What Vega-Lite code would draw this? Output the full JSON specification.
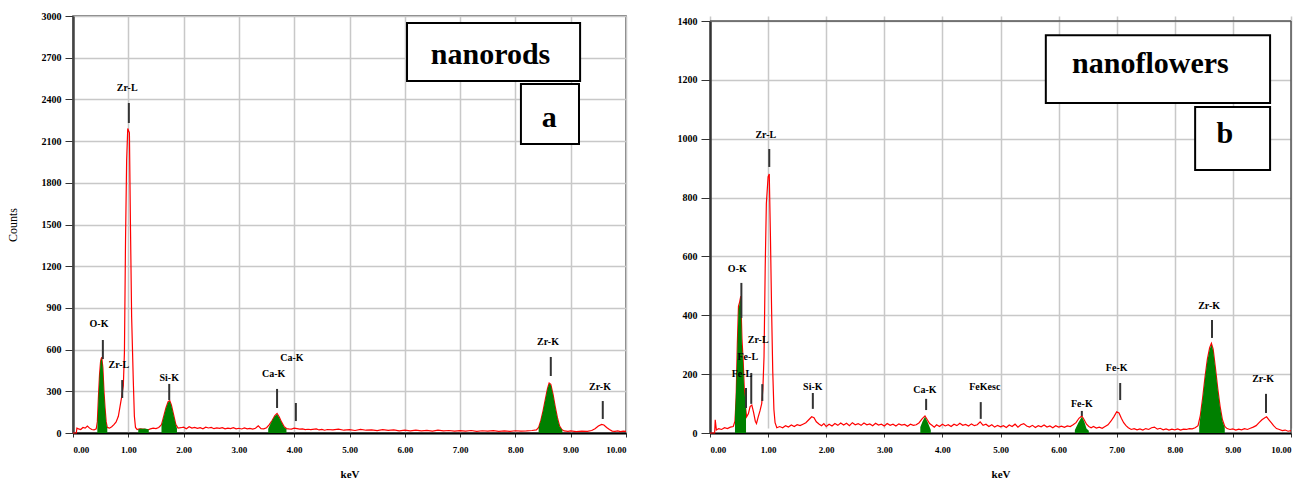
{
  "$schema": "https://vega.github.io/schema/vega-lite/v6.json",
  "background": "white",
  "padding": {"left": 5, "top": 10, "right": 5, "bottom": 5},
  "spacing": 47,
  "config": {
    "font": "Liberation Serif",
    "axis": {"labelFont": "Liberation Serif", "labelFontWeight": "bold", "labelFontSize": 9, "labelColor": "#000", "gridColor": "#c8c8c8", "gridWidth": 1.5, "tickColor": "#333", "titleFont": "Liberation Serif", "titleColor": "#000"}
  },
  "datasets": {
    "specA": [
      {"k":0.00,"c":0},{"k":0.06,"c":0},{"k":0.07,"c":35},{"k":0.10,"c":30},{"k":0.14,"c":25},{"k":0.18,"c":40},{"k":0.22,"c":35},{"k":0.26,"c":50},{"k":0.30,"c":35},{"k":0.34,"c":25},{"k":0.38,"c":22},{"k":0.42,"c":30},{"k":0.44,"c":80},{"k":0.46,"c":260},{"k":0.48,"c":420},{"k":0.50,"c":520},{"k":0.52,"c":545},{"k":0.54,"c":470},{"k":0.56,"c":300},{"k":0.58,"c":180},{"k":0.60,"c":80},{"k":0.62,"c":40},{"k":0.66,"c":35},{"k":0.70,"c":45},{"k":0.74,"c":60},{"k":0.78,"c":80},{"k":0.82,"c":120},{"k":0.85,"c":190},{"k":0.88,"c":260},{"k":0.91,"c":340},{"k":0.93,"c":580},{"k":0.95,"c":1390},{"k":0.97,"c":1960},{"k":0.99,"c":2190},{"k":1.02,"c":2160},{"k":1.04,"c":1460},{"k":1.06,"c":840},{"k":1.09,"c":380},{"k":1.11,"c":120},{"k":1.13,"c":40},{"k":1.16,"c":25},{"k":1.20,"c":30},{"k":1.25,"c":28},{"k":1.30,"c":26},{"k":1.35,"c":22},{"k":1.40,"c":30},{"k":1.45,"c":35},{"k":1.50,"c":32},{"k":1.55,"c":40},{"k":1.60,"c":60},{"k":1.64,"c":120},{"k":1.68,"c":180},{"k":1.72,"c":225},{"k":1.75,"c":232},{"k":1.78,"c":200},{"k":1.82,"c":130},{"k":1.86,"c":60},{"k":1.90,"c":35},
      {"k":1.95,"c":38},{"k":2.00,"c":42},{"k":2.05,"c":30},{"k":2.10,"c":45},{"k":2.15,"c":35},{"k":2.20,"c":40},{"k":2.25,"c":33},{"k":2.30,"c":38},{"k":2.35,"c":30},{"k":2.40,"c":42},{"k":2.45,"c":36},{"k":2.50,"c":40},{"k":2.55,"c":31},{"k":2.60,"c":37},{"k":2.65,"c":33},{"k":2.70,"c":39},{"k":2.75,"c":30},{"k":2.80,"c":35},{"k":2.85,"c":32},{"k":2.90,"c":38},{"k":2.95,"c":30},{"k":3.00,"c":34},{"k":3.05,"c":29},{"k":3.10,"c":36},{"k":3.15,"c":30},{"k":3.20,"c":33},{"k":3.25,"c":28},{"k":3.30,"c":34},{"k":3.35,"c":52},{"k":3.40,"c":32},{"k":3.45,"c":30},{"k":3.50,"c":38},
      {"k":3.55,"c":60},{"k":3.60,"c":90},{"k":3.65,"c":125},{"k":3.69,"c":140},{"k":3.73,"c":115},{"k":3.77,"c":80},{"k":3.82,"c":45},{"k":3.86,"c":32},
      {"k":3.90,"c":30},{"k":3.95,"c":28},{"k":4.00,"c":35},{"k":4.05,"c":32},{"k":4.10,"c":28},{"k":4.15,"c":30},{"k":4.20,"c":25},{"k":4.25,"c":27},{"k":4.30,"c":24},{"k":4.40,"c":30},{"k":4.45,"c":22},{"k":4.50,"c":26},{"k":4.55,"c":20},{"k":4.60,"c":25},{"k":4.70,"c":22},{"k":4.80,"c":28},{"k":4.90,"c":20},{"k":5.00,"c":24},{"k":5.10,"c":18},{"k":5.20,"c":26},{"k":5.30,"c":20},{"k":5.40,"c":22},{"k":5.50,"c":17},{"k":5.60,"c":24},{"k":5.70,"c":19},{"k":5.80,"c":22},{"k":5.90,"c":16},{"k":6.00,"c":20},{"k":6.10,"c":15},{"k":6.20,"c":21},{"k":6.30,"c":16},{"k":6.40,"c":19},{"k":6.50,"c":14},{"k":6.60,"c":20},{"k":6.70,"c":15},{"k":6.80,"c":18},{"k":6.90,"c":13},{"k":7.00,"c":17},{"k":7.10,"c":14},{"k":7.20,"c":18},{"k":7.30,"c":12},{"k":7.40,"c":16},{"k":7.50,"c":13},{"k":7.60,"c":17},{"k":7.70,"c":12},{"k":7.80,"c":15},{"k":7.90,"c":12},{"k":8.00,"c":16},{"k":8.10,"c":13},{"k":8.20,"c":15},{"k":8.30,"c":18},{"k":8.38,"c":22},
      {"k":8.42,"c":40},{"k":8.46,"c":90},{"k":8.50,"c":160},{"k":8.54,"c":240},{"k":8.58,"c":320},{"k":8.61,"c":360},{"k":8.64,"c":350},{"k":8.68,"c":280},{"k":8.72,"c":190},{"k":8.76,"c":110},{"k":8.80,"c":50},{"k":8.84,"c":25},{"k":8.88,"c":15},
      {"k":8.95,"c":12},{"k":9.00,"c":15},{"k":9.10,"c":10},{"k":9.20,"c":14},{"k":9.30,"c":12},{"k":9.38,"c":18},{"k":9.44,"c":30},{"k":9.50,"c":50},{"k":9.56,"c":62},{"k":9.60,"c":58},{"k":9.65,"c":40},{"k":9.70,"c":25},{"k":9.75,"c":14},{"k":9.80,"c":12},{"k":9.85,"c":15},{"k":9.90,"c":10},{"k":9.95,"c":14},{"k":10.00,"c":12}
    ],
    "fillA": [
      {"p":"O","k":0.44,"c":30},{"p":"O","k":0.46,"c":250},{"p":"O","k":0.48,"c":410},{"p":"O","k":0.50,"c":515},{"p":"O","k":0.52,"c":540},{"p":"O","k":0.54,"c":460},{"p":"O","k":0.56,"c":290},{"p":"O","k":0.58,"c":170},{"p":"O","k":0.60,"c":70},{"p":"O","k":0.62,"c":35},
      {"p":"X","k":1.18,"c":25},{"p":"X","k":1.22,"c":32},{"p":"X","k":1.26,"c":30},{"p":"X","k":1.30,"c":33},{"p":"X","k":1.34,"c":28},{"p":"X","k":1.37,"c":25},
      {"p":"Si","k":1.60,"c":50},{"p":"Si","k":1.64,"c":115},{"p":"Si","k":1.68,"c":175},{"p":"Si","k":1.72,"c":220},{"p":"Si","k":1.75,"c":228},{"p":"Si","k":1.78,"c":195},{"p":"Si","k":1.82,"c":125},{"p":"Si","k":1.86,"c":55},{"p":"Si","k":1.88,"c":35},
      {"p":"Ca","k":3.53,"c":30},{"p":"Ca","k":3.57,"c":65},{"p":"Ca","k":3.61,"c":95},{"p":"Ca","k":3.65,"c":120},{"p":"Ca","k":3.69,"c":135},{"p":"Ca","k":3.73,"c":110},{"p":"Ca","k":3.77,"c":75},{"p":"Ca","k":3.82,"c":40},{"p":"Ca","k":3.86,"c":28},
      {"p":"Zr","k":8.42,"c":38},{"p":"Zr","k":8.46,"c":88},{"p":"Zr","k":8.50,"c":155},{"p":"Zr","k":8.54,"c":235},{"p":"Zr","k":8.58,"c":315},{"p":"Zr","k":8.61,"c":355},{"p":"Zr","k":8.64,"c":345},{"p":"Zr","k":8.68,"c":275},{"p":"Zr","k":8.72,"c":185},{"p":"Zr","k":8.76,"c":105},{"p":"Zr","k":8.80,"c":45},{"p":"Zr","k":8.85,"c":20}
    ],
    "marksA": [
      {"k":1.01,"c":2374,"c2":2230},{"k":0.54,"c":669,"c2":532},{"k":0.89,"c":381,"c2":252},{"k":1.74,"c":353,"c2":237},{"k":3.69,"c":317,"c2":180},{"k":4.03,"c":216,"c2":86},{"k":8.64,"c":547,"c2":410},{"k":9.58,"c":230,"c2":101}
    ],
    "labelsA": [
      {"t":"Zr-L","k":0.98,"c":2482},{"t":"O-K","k":0.47,"c":784},{"t":"Zr-L","k":0.83,"c":489},{"t":"Si-K","k":1.74,"c":396},{"t":"Ca-K","k":3.63,"c":424},{"t":"Ca-K","k":3.96,"c":540},{"t":"Zr-K","k":8.59,"c":655},{"t":"Zr-K","k":9.53,"c":331}
    ],
    "boxesA": [
      {"k":6.04,"k2":9.17,"c":2950,"c2":2532},{"k":8.10,"k2":9.15,"c":2511,"c2":2079}
    ],
    "boxTextA": [
      {"t":"nanorods","k":7.55,"c":2655},{"t":"a","k":8.61,"c":2201}
    ],
    "specB": [
      {"k":0.00,"c":0},{"k":0.08,"c":0},{"k":0.09,"c":45},{"k":0.11,"c":10},{"k":0.15,"c":15},{"k":0.20,"c":12},{"k":0.25,"c":18},{"k":0.30,"c":15},{"k":0.35,"c":20},{"k":0.40,"c":22},{"k":0.43,"c":40},{"k":0.45,"c":120},{"k":0.47,"c":300},{"k":0.49,"c":430},{"k":0.51,"c":445},{"k":0.53,"c":465},{"k":0.55,"c":320},{"k":0.57,"c":250},{"k":0.59,"c":150},{"k":0.61,"c":90},{"k":0.63,"c":55},{"k":0.66,"c":65},{"k":0.69,"c":90},{"k":0.72,"c":95},{"k":0.75,"c":70},{"k":0.78,"c":40},{"k":0.80,"c":32},{"k":0.83,"c":55},{"k":0.86,"c":75},{"k":0.89,"c":100},{"k":0.91,"c":150},{"k":0.93,"c":260},{"k":0.95,"c":560},{"k":0.97,"c":780},{"k":1.00,"c":870},{"k":1.02,"c":880},{"k":1.04,"c":670},{"k":1.06,"c":420},{"k":1.08,"c":210},{"k":1.10,"c":80},{"k":1.12,"c":35},{"k":1.15,"c":18},{"k":1.20,"c":22},{"k":1.25,"c":18},{"k":1.30,"c":25},{"k":1.35,"c":20},{"k":1.40,"c":27},{"k":1.45,"c":22},{"k":1.50,"c":28},{"k":1.55,"c":25},{"k":1.60,"c":30},{"k":1.65,"c":35},{"k":1.70,"c":45},{"k":1.75,"c":55},{"k":1.79,"c":52},{"k":1.83,"c":38},{"k":1.88,"c":30},{"k":1.92,"c":25},{"k":1.96,"c":32},
      {"k":2.00,"c":22},{"k":2.05,"c":30},{"k":2.10,"c":24},{"k":2.15,"c":32},{"k":2.20,"c":26},{"k":2.25,"c":34},{"k":2.30,"c":27},{"k":2.35,"c":33},{"k":2.40,"c":25},{"k":2.45,"c":35},{"k":2.50,"c":28},{"k":2.55,"c":32},{"k":2.60,"c":26},{"k":2.65,"c":34},{"k":2.70,"c":28},{"k":2.75,"c":31},{"k":2.80,"c":25},{"k":2.85,"c":33},{"k":2.90,"c":27},{"k":2.95,"c":30},{"k":3.00,"c":24},{"k":3.05,"c":32},{"k":3.10,"c":26},{"k":3.15,"c":30},{"k":3.20,"c":24},{"k":3.25,"c":31},{"k":3.30,"c":27},{"k":3.35,"c":29},{"k":3.40,"c":23},{"k":3.45,"c":30},{"k":3.50,"c":26},{"k":3.55,"c":28},{"k":3.60,"c":35},{"k":3.65,"c":48},{"k":3.70,"c":58},{"k":3.74,"c":45},{"k":3.78,"c":32},{"k":3.82,"c":26},{"k":3.86,"c":20},{"k":3.90,"c":28},{"k":3.95,"c":22},
      {"k":4.00,"c":30},{"k":4.05,"c":24},{"k":4.10,"c":28},{"k":4.15,"c":22},{"k":4.20,"c":30},{"k":4.25,"c":25},{"k":4.30,"c":33},{"k":4.35,"c":26},{"k":4.40,"c":29},{"k":4.45,"c":24},{"k":4.50,"c":31},{"k":4.55,"c":25},{"k":4.60,"c":28},{"k":4.65,"c":38},{"k":4.70,"c":26},{"k":4.75,"c":30},{"k":4.80,"c":22},{"k":4.85,"c":28},{"k":4.90,"c":20},{"k":4.95,"c":26},{"k":5.00,"c":21},{"k":5.05,"c":25},{"k":5.10,"c":19},{"k":5.15,"c":27},{"k":5.20,"c":22},{"k":5.25,"c":30},{"k":5.30,"c":20},{"k":5.35,"c":28},{"k":5.40,"c":32},{"k":5.45,"c":24},{"k":5.50,"c":20},{"k":5.55,"c":26},{"k":5.60,"c":19},{"k":5.65,"c":25},{"k":5.70,"c":21},{"k":5.75,"c":27},{"k":5.80,"c":20},{"k":5.85,"c":24},{"k":5.90,"c":18},{"k":5.95,"c":25},{"k":6.00,"c":20},{"k":6.05,"c":23},{"k":6.10,"c":19},{"k":6.15,"c":24},{"k":6.20,"c":22},{"k":6.25,"c":28},{"k":6.30,"c":35},{"k":6.35,"c":50},{"k":6.40,"c":58},{"k":6.44,"c":45},{"k":6.48,"c":30},{"k":6.52,"c":22},{"k":6.56,"c":18},{"k":6.60,"c":22},{"k":6.65,"c":17},{"k":6.70,"c":20},{"k":6.75,"c":16},{"k":6.80,"c":22},{"k":6.85,"c":28},{"k":6.90,"c":40},{"k":6.95,"c":55},{"k":7.00,"c":72},{"k":7.04,"c":68},{"k":7.08,"c":50},{"k":7.12,"c":35},{"k":7.16,"c":25},{"k":7.20,"c":18},{"k":7.25,"c":12},{"k":7.30,"c":15},{"k":7.35,"c":11},{"k":7.40,"c":14},{"k":7.45,"c":10},{"k":7.50,"c":15},{"k":7.55,"c":12},{"k":7.60,"c":18},{"k":7.65,"c":20},{"k":7.70,"c":13},{"k":7.75,"c":16},{"k":7.80,"c":11},{"k":7.85,"c":14},{"k":7.90,"c":10},{"k":7.95,"c":13},{"k":8.00,"c":11},{"k":8.05,"c":14},{"k":8.10,"c":10},{"k":8.15,"c":13},{"k":8.20,"c":12},{"k":8.25,"c":15},{"k":8.30,"c":14},{"k":8.35,"c":18},{"k":8.40,"c":25},{"k":8.44,"c":60},{"k":8.48,"c":120},{"k":8.52,"c":190},{"k":8.56,"c":250},{"k":8.60,"c":290},{"k":8.63,"c":305},{"k":8.66,"c":285},{"k":8.70,"c":220},{"k":8.74,"c":150},{"k":8.78,"c":90},{"k":8.82,"c":45},{"k":8.86,"c":22},{"k":8.90,"c":15},{"k":8.95,"c":12},{"k":9.00,"c":14},{"k":9.05,"c":10},{"k":9.10,"c":13},{"k":9.15,"c":11},{"k":9.20,"c":15},{"k":9.25,"c":12},{"k":9.30,"c":16},{"k":9.35,"c":20},{"k":9.40,"c":25},{"k":9.45,"c":35},{"k":9.50,"c":45},{"k":9.55,"c":52},{"k":9.58,"c":55},{"k":9.62,"c":45},{"k":9.66,"c":35},{"k":9.70,"c":25},{"k":9.75,"c":15},{"k":9.80,"c":12},{"k":9.85,"c":8},{"k":9.90,"c":10},{"k":9.95,"c":6},{"k":10.00,"c":8}
    ],
    "fillB": [
      {"p":"O","k":0.43,"c":60},{"p":"O","k":0.45,"c":150},{"p":"O","k":0.47,"c":280},{"p":"O","k":0.49,"c":420},{"p":"O","k":0.51,"c":440},{"p":"O","k":0.53,"c":463},{"p":"O","k":0.55,"c":300},{"p":"O","k":0.57,"c":240},{"p":"O","k":0.59,"c":140},{"p":"O","k":0.61,"c":110},{"p":"O","k":0.62,"c":100},
      {"p":"Ca","k":3.62,"c":20},{"p":"Ca","k":3.66,"c":40},{"p":"Ca","k":3.70,"c":55},{"p":"Ca","k":3.74,"c":40},{"p":"Ca","k":3.78,"c":20},{"p":"Ca","k":3.80,"c":10},
      {"p":"Fe","k":6.28,"c":10},{"p":"Fe","k":6.34,"c":35},{"p":"Fe","k":6.40,"c":55},{"p":"Fe","k":6.44,"c":40},{"p":"Fe","k":6.48,"c":15},{"p":"Fe","k":6.52,"c":8},
      {"p":"Zr","k":8.42,"c":20},{"p":"Zr","k":8.44,"c":55},{"p":"Zr","k":8.48,"c":115},{"p":"Zr","k":8.52,"c":185},{"p":"Zr","k":8.56,"c":245},{"p":"Zr","k":8.60,"c":285},{"p":"Zr","k":8.63,"c":300},{"p":"Zr","k":8.66,"c":280},{"p":"Zr","k":8.70,"c":215},{"p":"Zr","k":8.74,"c":145},{"p":"Zr","k":8.78,"c":85},{"p":"Zr","k":8.82,"c":40},{"p":"Zr","k":8.86,"c":18}
    ],
    "marksB": [
      {"k":1.02,"c":965,"c2":904},{"k":0.54,"c":510,"c2":391},{"k":0.90,"c":166,"c2":109},{"k":0.71,"c":204,"c2":99},{"k":0.62,"c":153,"c2":85},{"k":1.77,"c":136,"c2":82},{"k":3.72,"c":116,"c2":78},{"k":4.66,"c":105,"c2":48},{"k":6.40,"c":75,"c2":58},{"k":7.06,"c":170,"c2":112},{"k":8.64,"c":384,"c2":323},{"k":9.57,"c":133,"c2":68}
    ],
    "labelsB": [
      {"t":"Zr-L","k":0.96,"c":1013},{"t":"O-K","k":0.47,"c":557},{"t":"Zr-L","k":0.83,"c":316},{"t":"Fe-L","k":0.65,"c":258},{"t":"Fe-L","k":0.55,"c":200},{"t":"Si-K","k":1.77,"c":156},{"t":"Ca-K","k":3.70,"c":146},{"t":"FeKesc","k":4.73,"c":156},{"t":"Fe-K","k":6.40,"c":99},{"t":"Fe-K","k":7.00,"c":221},{"t":"Zr-K","k":8.59,"c":432},{"t":"Zr-K","k":9.52,"c":183}
    ],
    "frameB": [
      {"k":0,"k2":10,"c":1400,"c2":1400},{"k":10,"k2":10,"c":0,"c2":1400}
    ],
    "boxesB": [
      {"k":5.78,"k2":9.64,"c":1352,"c2":1121},{"k":8.35,"k2":9.64,"c":1108,"c2":894}
    ],
    "boxTextB": [
      {"t":"nanoflowers","k":7.58,"c":1223},{"t":"b","k":8.86,"c":985}
    ]
  },
  "hconcat": [
    {
      "width": 553,
      "height": 417,
      "view": {"stroke": "#555", "strokeWidth": 1.5},
      "encoding": {
        "x": {"field": "k", "type": "quantitative", "scale": {"domain": [0, 10], "nice": false, "zero": false},
          "axis": {"title": "keV", "values": [0,1,2,3,4,5,6,7,8,9,10], "format": ".2f", "tickSize": 4, "labelPadding": 8, "domainColor": "#000", "domainWidth": 2, "titleFontSize": 11, "titleFontWeight": "bold", "titlePadding": 14}},
        "y": {"field": "c", "type": "quantitative", "scale": {"domain": [0, 3000], "nice": false},
          "axis": {"title": "Counts", "values": [0,300,600,900,1200,1500,1800,2100,2400,2700,3000], "format": "d", "tickSize": 8, "labelPadding": 4, "labelFontSize": 10, "domainColor": "#444", "domainWidth": 2.5, "titleFontSize": 12, "titleFontWeight": "normal", "titlePadding": 22}}
      },
      "layer": [
        {"data": {"name": "specA"}, "mark": {"type": "line", "color": "#ff0000", "strokeWidth": 1.2, "interpolate": "linear"}},
        {"data": {"name": "fillA"}, "mark": {"type": "area", "color": "#008000", "opacity": 1}, "encoding": {"y": {"field": "c", "type": "quantitative", "stack": null}, "detail": {"field": "p"}}},
        {"data": {"name": "marksA"}, "mark": {"type": "rule", "color": "#333", "strokeWidth": 2}, "encoding": {"y2": {"field": "c2"}}},
        {"data": {"name": "labelsA"}, "mark": {"type": "text", "font": "Liberation Serif", "fontWeight": "bold", "fontSize": 10, "color": "#000", "align": "center", "baseline": "middle"}, "encoding": {"text": {"field": "t"}}},
        {"data": {"name": "boxesA"}, "mark": {"type": "rect", "fill": "white", "stroke": "#000", "strokeWidth": 2}, "encoding": {"x2": {"field": "k2"}, "y2": {"field": "c2"}}},
        {"data": {"name": "boxTextA"}, "mark": {"type": "text", "font": "Liberation Serif", "fontWeight": "bold", "fontSize": 30, "color": "#000", "align": "center", "baseline": "alphabetic"}, "encoding": {"text": {"field": "t"}}}
      ]
    },
    {
      "width": 581,
      "height": 417,
      "view": {"stroke": null},
      "encoding": {
        "x": {"field": "k", "type": "quantitative", "scale": {"domain": [0, 10], "nice": false, "zero": false},
          "axis": {"title": "keV", "values": [0,1,2,3,4,5,6,7,8,9,10], "format": ".2f", "tickSize": 4, "labelPadding": 8, "domainColor": "#000", "domainWidth": 2, "titleFontSize": 11, "titleFontWeight": "bold", "titlePadding": 14}},
        "y": {"field": "c", "type": "quantitative", "scale": {"domain": [0, 1400], "nice": false, "range": [417, 5]},
          "axis": {"title": null, "values": [0,200,400,600,800,1000,1200,1400], "format": "d", "tickSize": 9, "labelPadding": 4, "labelFontSize": 10, "domainColor": "#333", "domainWidth": 2.5}}
      },
      "layer": [
        {"data": {"name": "frameB"}, "mark": {"type": "rule", "color": "#555", "strokeWidth": 1.5}, "encoding": {"x2": {"field": "k2"}, "y2": {"field": "c2"}}},
        {"data": {"name": "specB"}, "mark": {"type": "line", "color": "#ff0000", "strokeWidth": 1.2, "interpolate": "linear"}},
        {"data": {"name": "fillB"}, "mark": {"type": "area", "color": "#008000", "opacity": 1}, "encoding": {"y": {"field": "c", "type": "quantitative", "stack": null}, "detail": {"field": "p"}}},
        {"data": {"name": "marksB"}, "mark": {"type": "rule", "color": "#333", "strokeWidth": 2}, "encoding": {"y2": {"field": "c2"}}},
        {"data": {"name": "labelsB"}, "mark": {"type": "text", "font": "Liberation Serif", "fontWeight": "bold", "fontSize": 10, "color": "#000", "align": "center", "baseline": "middle"}, "encoding": {"text": {"field": "t"}}},
        {"data": {"name": "boxesB"}, "mark": {"type": "rect", "fill": "white", "stroke": "#000", "strokeWidth": 2}, "encoding": {"x2": {"field": "k2"}, "y2": {"field": "c2"}}},
        {"data": {"name": "boxTextB"}, "mark": {"type": "text", "font": "Liberation Serif", "fontWeight": "bold", "fontSize": 30, "color": "#000", "align": "center", "baseline": "alphabetic"}, "encoding": {"text": {"field": "t"}}}
      ]
    }
  ]
}
